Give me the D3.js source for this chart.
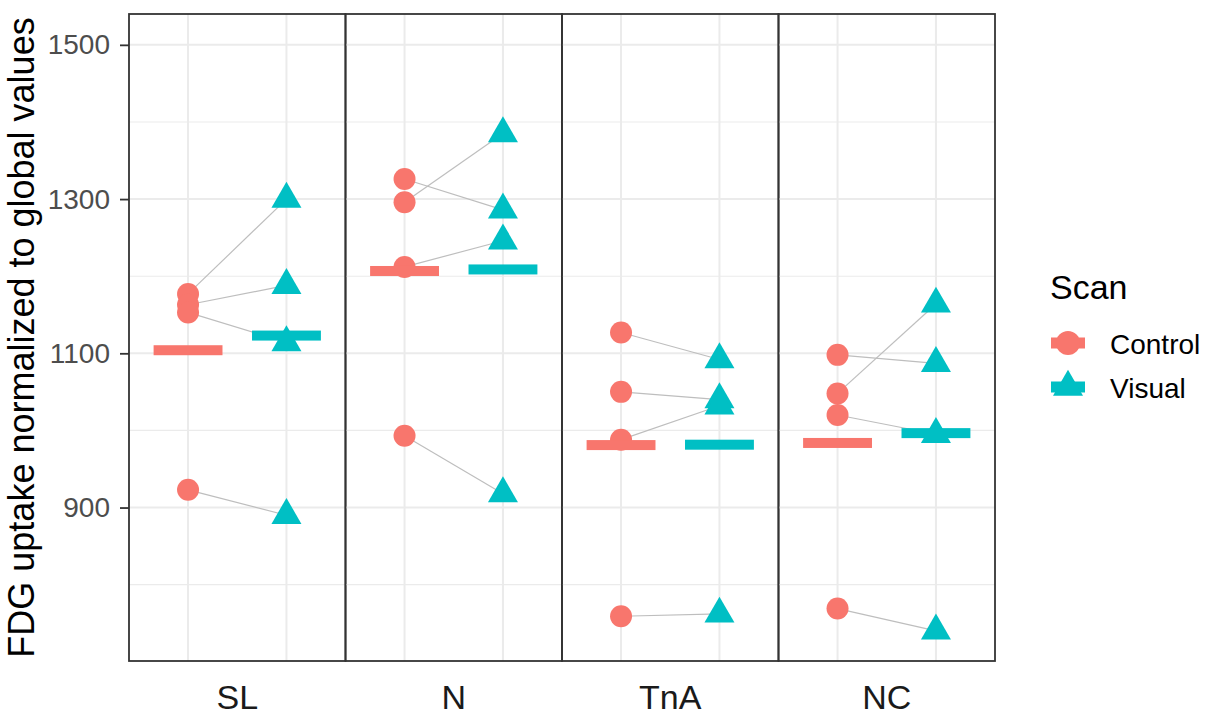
<!DOCTYPE html>
<html>
<head>
<meta charset="utf-8">
<script src="https://cdn.jsdelivr.net/npm/d3@7"></script>
<style>
  body { margin: 0; background: #fff; }
  text { font-family: "Liberation Sans", Arial, sans-serif; }
</style>
</head>
<body>
<div id="chart"></div>
<script>
// regions (facets) and the two scans
var regions = ["SL", "N", "TnA", "NC"];
var scans = ["Control", "Visual"];
var scanColors = ["#F8766D", "#00BFC4"];

// one value per subject, same subject order in both arrays
var controlValues = [
    [1177, 1163, 1153, 923],
    [1326, 1296, 1212, 993],
    [1127, 1050, 988, 759],
    [1098, 1048, 1020, 769]
];
var visualValues = [
    [1300, 1188, 1114, 890],
    [1286, 1385, 1246, 918],
    [1092, 1040, 1032, 762],
    [1087, 1164, 995, 740]
];

var yMajorTicks = [900, 1100, 1300, 1500];
var yMinorTicks = [800, 1000, 1200, 1400];
var yLimits = [701, 1540];

var width = 1209, height = 715;
var margin = { top: 14, right: 214, bottom: 54, left: 129 };

drawChart();

function drawChart() {
    var svg = d3.select("#chart").append("svg")
        .attr("width", width)
        .attr("height", height);

    var panelW = width - margin.left - margin.right;
    var panelH = height - margin.top - margin.bottom;

    var facet = d3.scaleBand()
        .domain(regions)
        .range([margin.left, margin.left + panelW]);

    var x = d3.scalePoint()
        .domain(scans)
        .range([0, facet.bandwidth()])
        .padding(0.6);

    var y = d3.scaleLinear()
        .domain(yLimits)
        .range([margin.top + panelH, margin.top]);

    var rows = [];
    regions.forEach(function (r, i) {
        controlValues[i].forEach(function (v, j) {
            rows.push({ region: r, subject: j, control: v, visual: visualValues[i][j] });
        });
    });

    var panels = svg.selectAll(".panel")
        .data(regions)
        .enter().append("g")
        .attr("class", "panel")
        .attr("transform", function (d) { return "translate(" + facet(d) + ",0)"; });

    // grid
    panels.each(function () {
        var g = d3.select(this);
        g.selectAll(".minor").data(yMinorTicks).enter().append("line")
            .attr("x1", 0).attr("x2", facet.bandwidth())
            .attr("y1", function (d) { return y(d); })
            .attr("y2", function (d) { return y(d); })
            .style("stroke", "#EBEBEB").style("stroke-width", 1.1);
        g.selectAll(".major").data(yMajorTicks).enter().append("line")
            .attr("x1", 0).attr("x2", facet.bandwidth())
            .attr("y1", function (d) { return y(d); })
            .attr("y2", function (d) { return y(d); })
            .style("stroke", "#EBEBEB").style("stroke-width", 2);
        g.selectAll(".vgrid").data(scans).enter().append("line")
            .attr("x1", function (d) { return x(d); })
            .attr("x2", function (d) { return x(d); })
            .attr("y1", margin.top).attr("y2", margin.top + panelH)
            .style("stroke", "#EBEBEB").style("stroke-width", 2);
    });

    // subject lines, points, mean bars
    panels.each(function (region) {
        var g = d3.select(this);
        var sub = rows.filter(function (d) { return d.region == region; });
        g.selectAll(".pair").data(sub).enter().append("line")
            .attr("x1", x("Control"))
            .attr("y1", function (d) { return y(d.control); })
            .attr("x2", x("Visual"))
            .attr("y2", function (d) { return y(d.visual); })
            .style("stroke", "#BEBEBE")
            .style("stroke-width", 1.2);

        g.selectAll(".ctrl").data(sub).enter().append("circle")
            .attr("cx", x("Control"))
            .attr("cy", function (d) { return y(d.control); })
            .attr("r", 11)
            .style("fill", scanColors[0]);

        g.selectAll(".vis").data(sub).enter().append("path")
            .attr("d", d3.symbol(d3.symbolTriangle, 390))
            .attr("transform", function (d) { return "translate(" + x("Visual") + "," + y(d.visual) + ")"; })
            .style("fill", scanColors[1]);

        var means = [d3.mean(sub, function (d) { return d.control; }),
                     d3.mean(sub, function (d) { return d.visual; })];
        var barW = x.step() * 0.7;
        g.selectAll(".mean").data(scans).enter().append("rect")
            .attr("x", function (d) { return x(d) - barW / 2; })
            .attr("y", function (d, i) { return y(means[i]) - 5; })
            .attr("width", barW)
            .attr("height", 10)
            .style("fill", function (d, i) { return scanColors[i]; });

        g.append("rect")
            .attr("x", 0).attr("y", margin.top)
            .attr("width", facet.bandwidth()).attr("height", panelH)
            .style("fill", "none")
            .style("stroke", "#333333")
            .style("stroke-width", 1.8);

        g.append("text")
            .attr("x", facet.bandwidth() / 2)
            .attr("y", 709)
            .attr("text-anchor", "middle")
            .style("font-size", "34px")
            .style("fill", "#1A1A1A")
            .text(region);
    });

    // y axis
    var yAxis = svg.append("g")
        .attr("transform", "translate(" + margin.left + ",0)")
        .call(d3.axisLeft(y).tickValues(yMajorTicks).tickFormat(d3.format("d")).tickSize(9).tickPadding(10));
    yAxis.select(".domain").remove();
    yAxis.selectAll(".tick line").style("stroke", "#333333").style("stroke-width", 1.8);
    yAxis.selectAll(".tick text")
        .style("font-size", "28px")
        .style("fill", "#4D4D4D")
        .style("font-family", "'Liberation Sans', Arial, sans-serif");

    svg.append("text")
        .attr("transform", "translate(34," + (margin.top + panelH / 2) + ") rotate(-90)")
        .attr("text-anchor", "middle")
        .style("font-size", "36px")
        .style("fill", "#000")
        .text("FDG uptake normalized to global values");

    // legend
    var legend = svg.append("g").attr("transform", "translate(1050,0)");
    legend.append("text")
        .attr("x", 0).attr("y", 299)
        .style("font-size", "34px")
        .text("Scan");

    var keys = legend.selectAll(".key")
        .data(scans)
        .enter().append("g")
        .attr("class", "key")
        .attr("transform", function (d, i) { return "translate(18," + (343 + i * 44) + ")"; });

    keys.append("rect")
        .attr("x", -17).attr("y", -5.5)
        .attr("width", 34).attr("height", 11)
        .style("fill", function (d, i) { return scanColors[i]; });

    keys.filter(function (d) { return d == "Control"; }).append("circle")
        .attr("r", 12)
        .style("fill", scanColors[0]);
    keys.filter(function (d) { return d == "Visual"; }).append("path")
        .attr("d", d3.symbol(d3.symbolTriangle, 390))
        .style("fill", scanColors[1]);

    keys.append("text")
        .attr("x", 42).attr("y", 11)
        .style("font-size", "28px")
        .text(function (d) { return d; });
}
</script>
</body>
</html>
